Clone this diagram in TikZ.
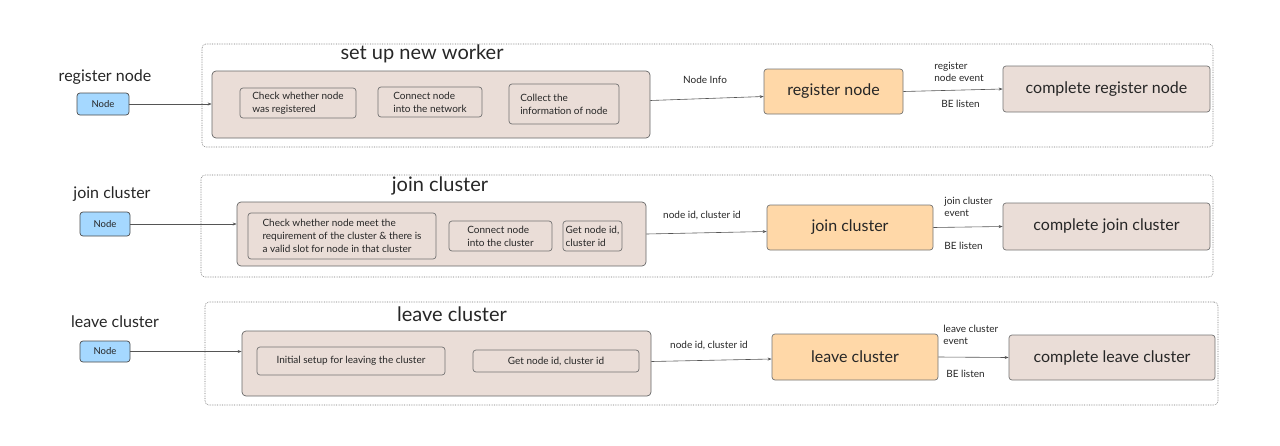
\documentclass[tikz,border=0pt]{standalone}
\usepackage{fontspec}
\setmainfont{Lato}
\usepackage{xcolor}
\usepackage{tikz}
\usetikzlibrary{positioning,arrows.meta,calc}
\definecolor{nodeblue}{HTML}{A5D8FF}
\definecolor{stagebrown}{HTML}{EADDD7}
\definecolor{handlerorange}{HTML}{FFD8A8}
\definecolor{edgegray}{HTML}{555555}

\begin{document}
\begin{tikzpicture}[
  x=1pt, y=-1pt,
  every node/.style={inner sep=2pt, text=black!85, line width=0.7pt},
  frame/.style={draw=black!55, densely dotted, line width=0.6pt, rounded corners=4pt, inner sep=0pt},
  stage/.style={draw=black!60, fill=stagebrown, rounded corners=4pt, inner sep=0pt},
  task/.style={draw=black!55, rounded corners=3pt, align=left, font=\fontsize{10}{13}\selectfont},
  trigger/.style={draw=black!70, fill=nodeblue, rounded corners=3pt, font=\fontsize{9.5}{11}\selectfont},
  handler/.style={draw=black!55, fill=handlerorange, rounded corners=3pt, font=\fontsize{16}{18}\selectfont},
  done/.style={draw=black!55, fill=stagebrown, rounded corners=3pt, font=\fontsize{16}{18}\selectfont},
  heading/.style={font=\fontsize{20}{22}\selectfont},
  rowlabel/.style={font=\fontsize{16}{18}\selectfont},
  note/.style={font=\fontsize{10}{11.5}\selectfont, align=left, inner sep=0pt},
  flow/.style={draw=edgegray, line width=0.6pt, -{Stealth[length=4pt,width=3pt]}}]
\useasboundingbox (0,0) rectangle (1280,445);

\node[frame, minimum width=1011, minimum height=103] (frame1) at (707.5,95.5) {};
\node[heading] (title1) at (422,54) {set up new worker};
\node[rowlabel] (lab1) at (105,77) {register node};
\node[trigger, minimum width=52, minimum height=22] (node1) at (103,104) {Node};
\node[stage, minimum width=438, minimum height=67] (stage1) at (431,104.5) {};
\node[task, minimum width=116, minimum height=30] (check1) at (298,103) {Check whether node\\was registered};
\node[task, minimum width=104, minimum height=30] (connect1) at (430,102) {Connect node\\into the network};
\node[task, minimum width=110, minimum height=40] (collect1) at (564,104) {Collect the\\information of node};
\node[handler, minimum width=139, minimum height=45] (reg) at (833.5,91.5) {register node};
\node[done, minimum width=207, minimum height=46] (done1) at (1106.5,89) {complete register node};
\node[note] (info1) at (705,80) {Node Info};
\node[note, anchor=west] (event1) at (934,72) {register\\node event};
\node[note, anchor=west] (listen1) at (941,104) {BE listen};
\draw[flow] (node1.east) -- (node1.east -| stage1.west);
\draw[flow] ($(stage1.east)+(0,-4)$) -- ($(reg.west)+(0,5)$);
\draw[flow] (reg.east) -- (done1.west);

\node[frame, minimum width=1012, minimum height=102] (frame2) at (707,226) {};
\node[heading] (title2) at (440,186) {join cluster};
\node[rowlabel] (lab2) at (112,194) {join cluster};
\node[trigger, minimum width=50, minimum height=24] (node2) at (105,224) {Node};
\node[stage, minimum width=409, minimum height=64] (stage2) at (441.5,234) {};
\node[task, minimum width=188, minimum height=46] (check2) at (342,236) {Check whether node meet the\\requirement of the cluster \& there is\\a valid slot for node in that cluster};
\node[task, minimum width=103, minimum height=30] (connect2) at (500.5,236) {Connect node\\into the cluster};
\node[task, minimum width=59, minimum height=30] (getid2) at (592.5,236) {Get node id,\\cluster id};
\node[handler, minimum width=166, minimum height=45] (join) at (850,227.5) {join cluster};
\node[done, minimum width=207, minimum height=47] (done2) at (1106.5,226.5) {complete join cluster};
\node[note] (info2) at (702,215) {node id, cluster id};
\node[note, anchor=west] (event2) at (944,207) {join cluster\\event};
\node[note, anchor=west] (listen2) at (944,246) {BE listen};
\draw[flow] (node2.east) -- (node2.east -| stage2.west);
\draw[flow] (stage2.east) -- ($(join.west)+(0,4)$);
\draw[flow] (join.east) -- (done2.west);

\node[frame, minimum width=1013, minimum height=103] (frame3) at (711.5,353.5) {};
\node[heading] (title3) at (452,314) {leave cluster};
\node[rowlabel] (lab3) at (115,322) {leave cluster};
\node[trigger, minimum width=50, minimum height=21] (node3) at (105,351.5) {Node};
\node[stage, minimum width=409, minimum height=65] (stage3) at (446.5,363.5) {};
\node[task, minimum width=188, minimum height=28] (setup3) at (351,361) {Initial setup for leaving the cluster};
\node[task, minimum width=166, minimum height=22] (getid3) at (556,361) {Get node id, cluster id};
\node[handler, minimum width=166, minimum height=46] (leave) at (855,357) {leave cluster};
\node[done, minimum width=206, minimum height=45] (done3) at (1112,357.5) {complete leave cluster};
\node[note] (info3) at (709,345) {node id, cluster id};
\node[note, anchor=west] (event3) at (943,335) {leave cluster\\event};
\node[note, anchor=west] (listen3) at (946,374) {BE listen};
\draw[flow] (node3.east) -- (node3.east -| stage3.west);
\draw[flow] ($(stage3.east)+(0,-2)$) -- ($(leave.west)+(0,2)$);
\draw[flow] (leave.east) -- (done3.west);
\end{tikzpicture}
\end{document}
